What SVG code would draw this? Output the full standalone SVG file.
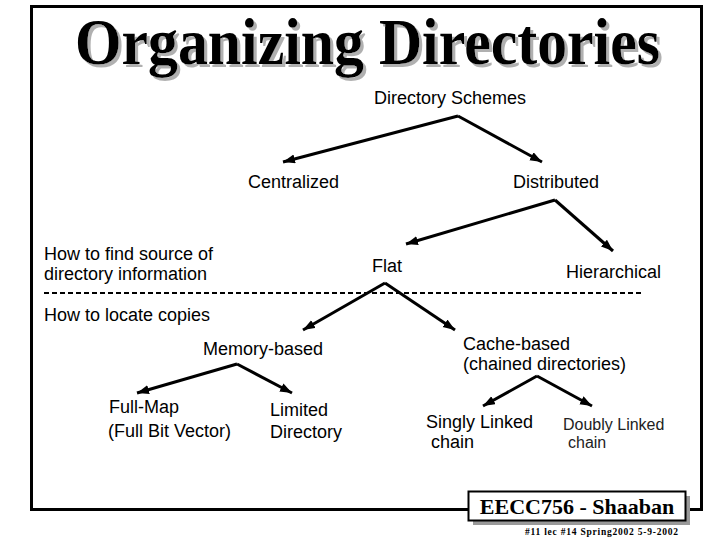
<svg xmlns="http://www.w3.org/2000/svg" width="720" height="540" viewBox="0 0 720 540">
<style>
.lbl{font-family:"Liberation Sans",Arial,sans-serif;font-size:18px;fill:#000}
.thin{font-family:"Liberation Sans",Arial,sans-serif;font-size:16px;fill:#222}
.edge{stroke:#000;stroke-width:3;fill:none;marker-end:url(#ah)}
.title{font-family:"Liberation Serif","Times New Roman",serif;font-weight:bold;font-size:66px}
.foot{font-family:"Liberation Serif","Times New Roman",serif;font-weight:bold}
</style>
<defs>
<marker id="ah" markerUnits="userSpaceOnUse" markerWidth="13" markerHeight="10" refX="12" refY="4.5" orient="auto">
<path d="M0,0 L12,4.5 L0,9 z" fill="#000"/>
</marker>
<filter id="shadow" x="-5%" y="-20%" width="110%" height="140%">
<feOffset in="SourceAlpha" dx="3" dy="3" result="off"/>
<feFlood flood-color="#b0b0b0"/>
<feComposite in2="off" operator="in" result="sh"/>
<feMerge><feMergeNode in="sh"/><feMergeNode in="SourceGraphic"/></feMerge>
</filter>
</defs>
<rect width="720" height="540" fill="#fff"/>
<rect x="31.5" y="6.5" width="670" height="503" fill="none" stroke="#000" stroke-width="3"/>
<g id="title">
<text class="title" x="75" y="64" fill="#000" filter="url(#shadow)" textLength="585" lengthAdjust="spacingAndGlyphs">Organizing Directories</text>
</g>
<g id="connectors">
<path class="edge" d="M458,116 L283,162"/>
<path class="edge" d="M458,116 L542,162"/>
<path class="edge" d="M555,200 L406,244"/>
<path class="edge" d="M555,200 L613,251"/>
<path class="edge" d="M385,283 L303,330"/>
<path class="edge" d="M385,283 L455,330"/>
<path class="edge" d="M237,364 L137,393"/>
<path class="edge" d="M237,364 L292,393"/>
<path class="edge" d="M537,376 L483,406"/>
<path class="edge" d="M537,376 L592,406"/>
</g>
<line id="divider" x1="44" y1="293" x2="642" y2="293" stroke="#000" stroke-width="2" stroke-dasharray="5,3"/>
<g id="side-labels">
<text class="lbl" x="44" y="260">How to find source of</text>
<text class="lbl" x="44" y="280">directory information</text>
<text class="lbl" x="44" y="321">How to locate copies</text>
</g>
<g id="n-schemes"><text class="lbl" x="374" y="104">Directory Schemes</text></g>
<g id="n-centralized"><text class="lbl" x="248" y="188">Centralized</text></g>
<g id="n-distributed"><text class="lbl" x="513" y="188">Distributed</text></g>
<g id="n-flat"><text class="lbl" x="372" y="272">Flat</text></g>
<g id="n-hierarchical"><text class="lbl" x="566" y="278">Hierarchical</text></g>
<g id="n-memory"><text class="lbl" x="203" y="355">Memory-based</text></g>
<g id="n-cache"><text class="lbl" x="463" y="350">Cache-based</text><text class="lbl" x="463" y="370">(chained directories)</text></g>
<g id="n-fullmap"><text class="lbl" x="109" y="413">Full-Map</text><text class="lbl" x="108" y="437">(Full Bit Vector)</text></g>
<g id="n-limited"><text class="lbl" x="270" y="416">Limited</text><text class="lbl" x="270" y="438">Directory</text></g>
<g id="n-singly"><text class="lbl" x="426" y="428">Singly Linked</text><text class="lbl" x="431" y="448">chain</text></g>
<g id="n-doubly"><text class="thin" x="563" y="430">Doubly Linked</text><text class="thin" x="568" y="448">chain</text></g>
<g id="footer">
<rect x="473" y="496" width="217" height="29" fill="#999"/>
<rect x="468.5" y="491.5" width="217" height="29" fill="#fff" stroke="#000" stroke-width="2"/>
<text class="foot" x="577" y="514" font-size="22" text-anchor="middle">EECC756 - Shaaban</text>
<text class="foot" x="525" y="535" font-size="9.5" textLength="153" lengthAdjust="spacing">#11  lec #14   Spring2002   5-9-2002</text>
</g>
</svg>
